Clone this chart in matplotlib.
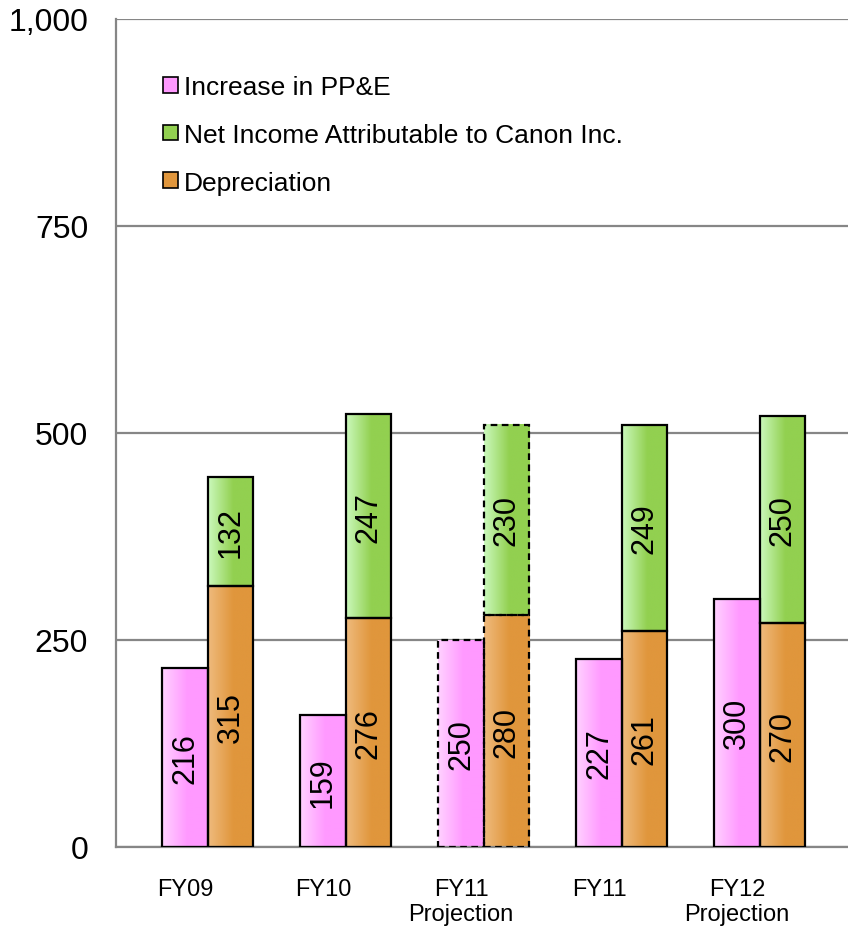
import numpy as np
import matplotlib
matplotlib.use("Agg")
import matplotlib.pyplot as plt
from matplotlib.colors import LinearSegmentedColormap
from matplotlib.patches import Patch
from matplotlib.ticker import FuncFormatter

plt.rcParams['font.family'] = ['Liberation Sans', 'DejaVu Sans']

# Capex vs. cash sources, billions of yen
years = ["FY09", "FY10", "FY11\nProjection", "FY11", "FY12\nProjection"]
ppe_increase = [216, 159, 250, 227, 300]
depreciation = [315, 276, 280, 261, 270]
net_income = [132, 247, 230, 249, 250]
is_projection = [False, False, True, False, False]

series_names = ["Increase in PP&E",
                "Net Income Attributable to Canon Inc.",
                "Depreciation"]

# light edge on the left, full colour from the middle of the bar
pink = ("#ffd2ff", "#ff99ff")
green = ("#cbf9bd", "#92d050")
orange = ("#efbb7e", "#e0963c")


def grad_cmap(c):
    return LinearSegmentedColormap.from_list("g", [(0, c[0]), (0.55, c[1]), (1, c[1])])


grad = np.linspace(0, 1, 256).reshape(1, -1)

fig = plt.figure(figsize=(8.48, 9.28), dpi=100)
ax = fig.add_axes([116 / 848, 80 / 928, 732 / 848, 828 / 928])

w = 0.33
x = np.arange(len(years))


def gradient_bar(xc, bottom, height, colors, dashed):
    x0, x1 = xc - w / 2, xc + w / 2
    ax.imshow(grad, extent=[x0, x1, bottom, bottom + height], cmap=grad_cmap(colors),
              aspect='auto', zorder=2, interpolation='bilinear')
    ax.bar(xc, height, w, bottom=bottom, fill=False, edgecolor='black',
           linewidth=1.6, linestyle=(0, (3, 2)) if dashed else '-', zorder=3)
    ax.text(xc, bottom + height / 2, str(height), rotation=90, ha='center',
            va='center', fontsize=22, zorder=4)


for i in range(len(years)):
    gradient_bar(x[i], 0, ppe_increase[i], pink, is_projection[i])
    gradient_bar(x[i] + w, 0, depreciation[i], orange, is_projection[i])
    gradient_bar(x[i] + w, depreciation[i], net_income[i], green, is_projection[i])

ax.set_xlim(-0.5, 4.804)
ax.set_ylim(0, 1000)
ax.set_yticks([0, 250, 500, 750, 1000])
ax.yaxis.set_major_formatter(FuncFormatter(lambda v, p: f"{int(v):,}"))
ax.set_xticks(x)
ax.set_xticklabels(years, fontsize=17, linespacing=1.2)
ax.tick_params(axis='y', length=0, pad=20, labelsize=23)
ax.tick_params(axis='x', length=0, pad=22)

ax.grid(axis='y', color='#868686', linewidth=1.6, zorder=0)
ax.set_axisbelow(True)
for s in ['top', 'right']:
    ax.spines[s].set_visible(False)
ax.spines['left'].set_color('#868686')
ax.spines['left'].set_linewidth(1.6)
ax.spines['bottom'].set_color('#868686')
ax.spines['bottom'].set_linewidth(1.6)

handles = [Patch(facecolor=c[1], edgecolor='black', linewidth=1.2)
           for c in (pink, green, orange)]
ax.legend(handles, series_names, loc='upper left', bbox_to_anchor=(0.05, 0.945),
          frameon=False, fontsize=19, handlelength=0.55, handleheight=0.55,
          handletextpad=0.25, labelspacing=0.9, borderaxespad=0)

fig.savefig("out.png", dpi=100)
